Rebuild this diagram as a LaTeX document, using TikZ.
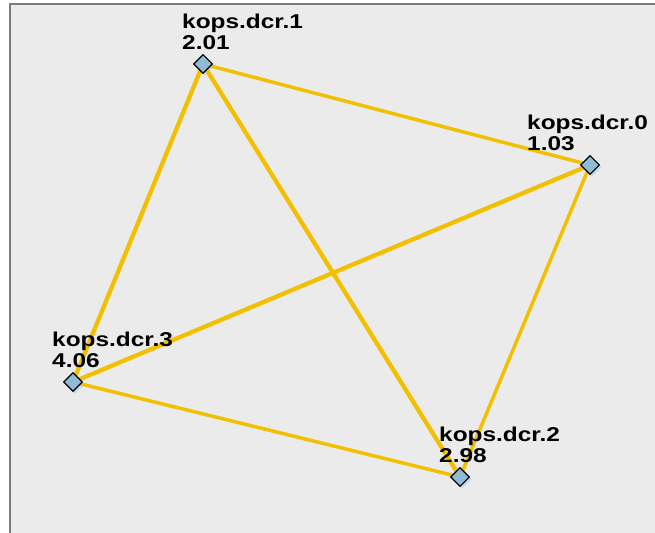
\documentclass[tikz,border=0pt]{standalone}
\usepackage{fontspec}
\setmainfont{Liberation Sans}
\newfontfamily\lblfont[FakeStretch=1.22]{Liberation Sans}
\usetikzlibrary{shapes.geometric,backgrounds,calc}
\definecolor{bgc}{HTML}{EBEBEB}
\definecolor{edgec}{HTML}{F2C000}
\definecolor{nodec}{HTML}{8FBCD4}
\definecolor{framec}{HTML}{7A7A7A}
\tikzset{
  hostnode/.style={diamond, draw=black, fill=nodec, line width=1.1bp, minimum size=19bp, inner sep=0pt},
  hostlabel/.style={anchor=south west, inner sep=0pt, align=left, font=\lblfont\fontsize{20bp}{21bp}\selectfont\bfseries},
  link/.style={draw=edgec, line width=3.5bp},
  thicklink/.style={draw=edgec, line width=4.3bp},
  nshadow/.style={fill=nodec!55},
}
\begin{document}
\begin{tikzpicture}[x=1bp,y=-1bp]
\useasboundingbox (0,0) rectangle (655,533);
% nodes
\node[hostnode] (n1) at (203,64) {};
\node[hostnode] (n0) at (590,165) {};
\node[hostnode] (n3) at (73,382) {};
\node[hostnode] (n2) at (460,477) {};
% labels
\node[hostlabel] (l1) at (182,50) {kops.dcr.1\\2.01};
\node[hostlabel] (l0) at (527,151) {kops.dcr.0\\1.03};
\node[hostlabel] (l3) at (52,368) {kops.dcr.3\\4.06};
\node[hostlabel] (l2) at (439,463) {kops.dcr.2\\2.98};
\begin{scope}[on background layer]
\fill[bgc] (10,4) rectangle (655,533);
\draw[framec, line width=1.5bp] (10,533) -- (10,4) -- (655,4);
\fill[nshadow] ($(n1)+(2,2)$) +(0,-9.5) -- +(9.5,0) -- +(0,9.5) -- +(-9.5,0) -- cycle;
\fill[nshadow] ($(n0)+(2,2)$) +(0,-9.5) -- +(9.5,0) -- +(0,9.5) -- +(-9.5,0) -- cycle;
\fill[nshadow] ($(n3)+(2,2)$) +(0,-9.5) -- +(9.5,0) -- +(0,9.5) -- +(-9.5,0) -- cycle;
\fill[nshadow] ($(n2)+(2,2)$) +(0,-9.5) -- +(9.5,0) -- +(0,9.5) -- +(-9.5,0) -- cycle;
\draw[link] (n1.center) -- (n0.center);
\draw[thicklink] (n1.center) -- (n3.center);
\draw[thicklink] (n1.center) -- (n2.center);
\draw[thicklink] (n0.center) -- (n3.center);
\draw[link] (n0.center) -- (n2.center);
\draw[link] (n3.center) -- (n2.center);
\end{scope}
\end{tikzpicture}
\end{document}
